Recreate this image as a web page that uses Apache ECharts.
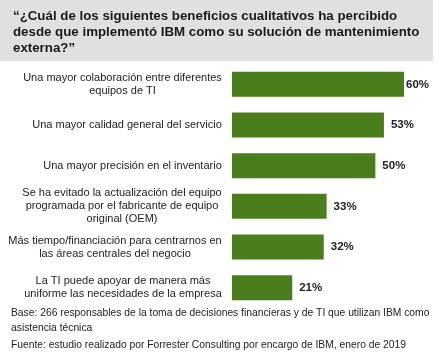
<!DOCTYPE html>
<html><head><meta charset="utf-8">
<script src="https://cdn.jsdelivr.net/npm/echarts@6/dist/echarts.min.js"></script>
<style>html,body{margin:0;padding:0;background:#fff}#c{width:440px;height:355px}</style>
</head><body><div id="c"></div>
<script>
const titleText = "“¿Cuál de los siguientes beneficios cualitativos ha percibido\ndesde que implementó IBM como su solución de mantenimiento\nexterna?”";
const categories = [
  "Una mayor colaboración entre diferentes\nequipos de TI",
  "Una mayor calidad general del servicio",
  "Una mayor precisión en el inventario",
  "Se ha evitado la actualización del equipo\nprogramada por el fabricante de equipo\noriginal (OEM)",
  "Más tiempo/financiación para centrarnos en\nlas áreas centrales del negocio",
  "La TI puede apoyar de manera más\nuniforme las necesidades de la empresa"
];
const values = [60, 53, 50, 33, 32, 21];
const footBase = "Base: 266 responsables de la toma de decisiones financieras y de TI que utilizan IBM como\nasistencia técnica";
const footSource = "Fuente: estudio realizado por Forrester Consulting por encargo de IBM, enero de 2019";

const FONT = "'Liberation Sans', Arial, sans-serif";
const LABEL_SIZE = 11;
// measure each label's widest line so lines can be centred inside a right-aligned block
const ctx = document.createElement('canvas').getContext('2d');
ctx.font = LABEL_SIZE + 'px ' + FONT;
const rich = {};
categories.forEach((c, i) => {
  const w = Math.max(...c.split('\n').map(l => ctx.measureText(l).width));
  rich['r' + i] = {width: Math.ceil(w), align: 'center', fontFamily: FONT, fontSize: LABEL_SIZE, color: '#222', lineHeight: 13};
});

const chart = echarts.init(document.getElementById('c'), null, {renderer: 'canvas'});
chart.setOption({
  animation: false,
  backgroundColor: '#fff',
  graphic: [{type: 'rect', left: 0, top: 0, shape: {width: 433, height: 61}, style: {fill: '#e0e0e0'}, z: -1}],
  title: [
    {text: titleText, left: 8, top: 3, textStyle: {fontFamily: FONT, fontSize: 13.3, fontWeight: 'bold', color: '#1a1a1a', lineHeight: 16}},
    {text: footBase, left: 6, top: 301, textStyle: {fontFamily: FONT, fontSize: 10.3, fontWeight: 'normal', color: '#222', lineHeight: 15}},
    {text: footSource, left: 6, top: 333, textStyle: {fontFamily: FONT, fontSize: 10.3, fontWeight: 'normal', color: '#222', lineHeight: 15}}
  ],
  grid: {left: 232, top: 64, width: 200.7, height: 244, containLabel: false},
  xAxis: {type: 'value', min: 0, max: 70, show: false},
  yAxis: {
    type: 'category', data: categories, inverse: true,
    axisLine: {show: false}, axisTick: {show: false},
    axisLabel: {fontFamily: FONT, fontSize: LABEL_SIZE, color: '#222', lineHeight: 13, align: 'right', margin: 10,
      formatter: (v, i) => v.split('\n').map(l => '{r' + i + '|' + l + '}').join('\n'),
      rich: rich},
  },
  series: [{
    type: 'bar', barWidth: 25,
    itemStyle: {color: '#4a7d1c'},
    label: {show: true, position: 'right', distance: 7, formatter: '{c}%', fontFamily: FONT, fontSize: 11.5, fontWeight: 'bold', color: '#222'},
    data: values.map((v, i) => i === 0 ? {value: v, label: {distance: 2}} : v)
  }]
});
</script></body></html>
